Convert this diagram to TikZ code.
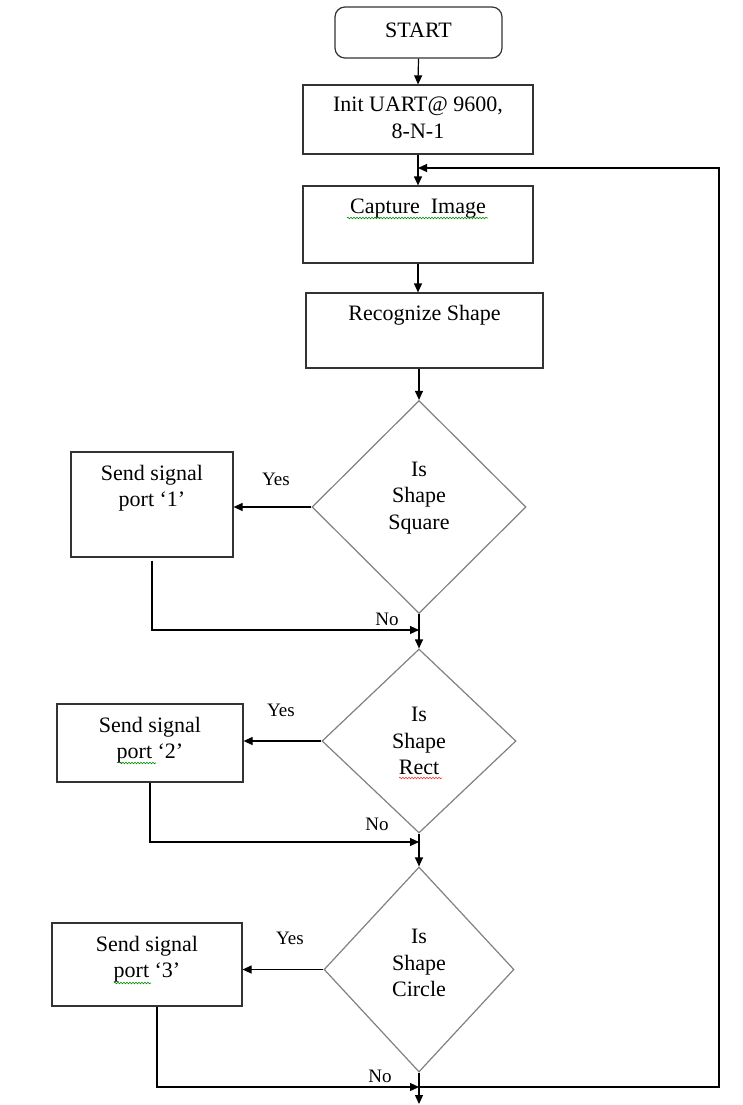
\documentclass[tikz,border=0pt]{standalone}
\usepackage{fontspec}
\setmainfont{Liberation Serif}
\usetikzlibrary{arrows.meta,shapes.geometric,decorations.pathmorphing}
\begin{document}
\begin{tikzpicture}[x=1pt,y=-1pt,
  font=\fontsize{22}{26.5}\selectfont,
  box/.style={draw=black!80, line width=1.2pt, rectangle, inner sep=0pt},
  dia/.style={draw=black!50, line width=1.2pt, diamond, inner sep=0pt, aspect=1},
  txt/.style={inner sep=0pt, align=center},
  lbl/.style={inner sep=0pt, font=\fontsize{19}{22}\selectfont},
  arr/.style={line width=1.2pt, -{Triangle[length=9pt,width=8pt]}},
  ln/.style={line width=1.2pt},
  squig/.style={line width=0.6pt, decorate, decoration={snake, amplitude=0.8pt, segment length=3pt}}
]
\useasboundingbox (0,0) rectangle (742,1105);

% main column
\node[box, rounded corners=10pt, minimum width=167pt, minimum height=51pt] (start) at (418.5,32.5) {};
\node[txt] (startT) at (418.5,30) {START};

\node[box, minimum width=230pt, minimum height=69pt] (init) at (418,119.5) {};
\node[txt] (initT) at (418,118) {Init UART@ 9600,\\8-N-1};

\node[box, minimum width=230pt, minimum height=77pt] (cap) at (418,224.5) {};
\node[txt] (capT) at (418,209) {Capture\ \ Image};

\node[box, minimum width=237pt, minimum height=75pt] (rec) at (424.5,330.5) {};
\node[txt] (recT) at (424.5,315) {Recognize Shape};

% decisions
\node[dia, minimum width=214pt, minimum height=213pt] (d1) at (419,507) {};
\node[txt] (d1T) at (419,498) {Is\\Shape\\Square};

\node[dia, minimum width=194pt, minimum height=184pt] (d2) at (419,741) {};
\node[txt] (d2T) at (419,741) {Is\\Shape\\Rect};

\node[dia, minimum width=190pt, minimum height=205pt] (d3) at (419,969.5) {};
\node[txt] (d3T) at (419,963) {Is\\Shape\\Circle};

% action boxes
\node[box, minimum width=162pt, minimum height=105pt] (b1) at (152,504.5) {};
\node[txt] (b1T) at (152,488) {Send signal\\port ‘1’};

\node[box, minimum width=186pt, minimum height=78pt] (b2) at (150,743) {};
\node[txt] (b2T) at (150,740) {Send signal\\port ‘2’};

\node[box, minimum width=190pt, minimum height=83pt] (b3) at (147,964.5) {};
\node[txt] (b3T) at (147,959) {Send signal\\port ‘3’};

% labels
\node[lbl] (y1) at (276,479) {Yes};
\node[lbl] (n1) at (387,619) {No};
\node[lbl] (y2) at (281,710) {Yes};
\node[lbl] (n2) at (377,824) {No};
\node[lbl] (y3) at (290,938) {Yes};
\node[lbl] (n3) at (380,1076) {No};

% junction / free-end coordinates
\coordinate (j1) at (419,630);
\coordinate (j2) at (419,842);
\coordinate (j3) at (419,1087);
\coordinate (fin) at (419,1104);
\coordinate (lr) at (719,168);

% connectors
\draw[arr] (start.south) -- (init.north);
\draw[arr] (init.south) -- (cap.north);
\draw[arr] (cap.south) -- (cap.south |- rec.north);
\draw[arr] (rec.south -| d1.north) -- (d1.north);
\draw[arr] (d1.south) -- (d2.north);
\draw[arr] (d2.south) -- (d3.north);
\draw[arr] (d3.south) -- (fin);

\draw[arr] (d1.west) -- (d1.west -| b1.east);
\draw[arr] (d2.west) -- (d2.west -| b2.east);
\draw[arr] (d3.west) -- (d3.west -| b3.east);

\draw[arr] ([yshift=-3pt]b1.south) |- (j1);
\draw[arr] (b2.south) |- (j2);
\draw[arr] ([xshift=10pt]b3.south) |- (j3);

\draw[arr] (j3) -- (lr |- j3) -- (lr) -- (lr -| init.south);

% spell-check squiggles
\draw[squig, green!55!black] (347,218) -- (488,218);
\draw[squig, green!55!black] (119,763) -- (156,763);
\draw[squig, green!55!black] (114,983) -- (151,983);
\draw[squig, red!80] (399,778) -- (442,778);
\end{tikzpicture}
\end{document}
